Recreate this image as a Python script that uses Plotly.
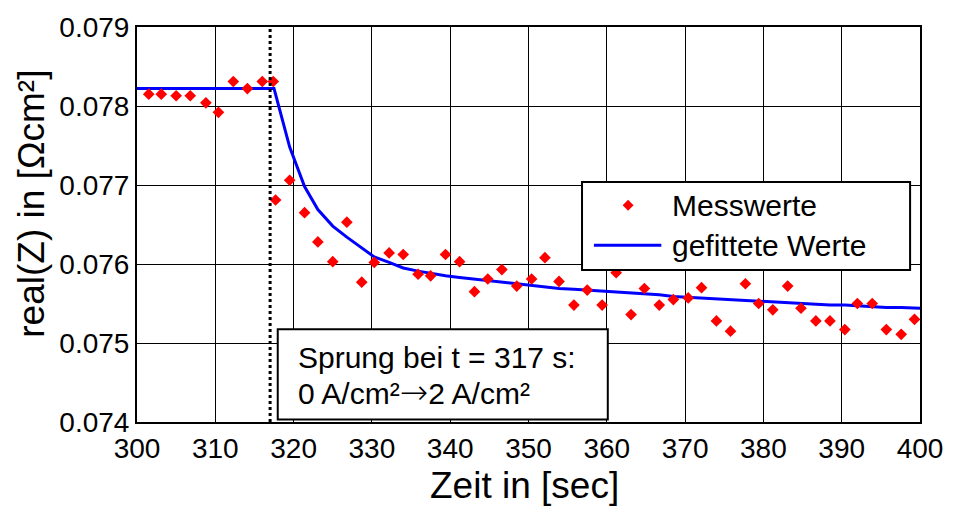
import plotly.graph_objects as go

# Measured real part of the impedance after the current step
zeit = [301.5, 303.1, 305.0, 306.8, 308.8, 310.4, 312.3, 314.1, 316.0, 317.4,
        317.7, 319.5, 321.4, 323.1, 325.0, 326.8, 328.7, 330.3, 332.2, 334.0,
        335.9, 337.5, 339.4, 341.2, 343.1, 344.8, 346.6, 348.5, 350.4, 352.1,
        353.9, 355.8, 357.5, 359.4, 361.2, 363.1, 364.8, 366.7, 368.5, 370.4,
        372.1, 374.0, 375.8, 377.7, 379.4, 381.2, 383.1, 384.8, 386.7, 388.5,
        390.4, 392.0, 393.9, 395.7, 397.6, 399.3]
messwerte = [0.07815, 0.07815, 0.07813, 0.07813, 0.07804, 0.07792, 0.07831, 0.07822, 0.07831, 0.07831,
             0.07681, 0.07706, 0.07665, 0.07628, 0.07603, 0.07653, 0.07577, 0.07602, 0.07614, 0.07612,
             0.07587, 0.07585, 0.07612, 0.07603, 0.07565, 0.07581, 0.07593, 0.07572, 0.07581, 0.07608,
             0.07578, 0.07548, 0.07567, 0.07548, 0.07589, 0.07536, 0.07569, 0.07548, 0.07555, 0.07557,
             0.07570, 0.07528, 0.07515, 0.07575, 0.07550, 0.07542, 0.07572, 0.07544, 0.07528, 0.07528,
             0.07517, 0.07550, 0.07550, 0.07517, 0.07511, 0.07530]

# Fitted model response
fit_zeit = [300.0, 317.5, 319.5, 321.4, 323.1, 325.0, 326.8, 328.7, 330.3, 332.2,
            334.0, 335.9, 337.5, 339.4, 341.2, 343.1, 344.8, 346.6, 348.5, 350.4,
            352.1, 353.9, 355.8, 357.5, 359.4, 361.2, 363.1, 364.8, 366.7, 368.5,
            370.4, 372.1, 374.0, 375.8, 377.7, 379.4, 381.2, 383.1, 384.8, 386.7,
            388.5, 390.4, 392.0, 393.9, 395.7, 397.6, 399.3, 400.0]
fit_werte = [0.07822, 0.07822, 0.07748, 0.07698, 0.07669, 0.07648, 0.07634, 0.07621, 0.07609, 0.07602,
             0.07595, 0.07591, 0.07588, 0.07585, 0.07583, 0.07581, 0.07579, 0.07577, 0.07575, 0.07573,
             0.07571, 0.07569, 0.07568, 0.07567, 0.07565, 0.07564, 0.07563, 0.07562, 0.07561, 0.07559,
             0.07558, 0.07557, 0.07556, 0.07555, 0.07554, 0.07553, 0.07552, 0.07551, 0.07550, 0.07549,
             0.07548, 0.07548, 0.07547, 0.07546, 0.07545, 0.07545, 0.07544, 0.07544]

sprung_zeit = 317
x_ticks = [300, 310, 320, 330, 340, 350, 360, 370, 380, 390, 400]
y_ticks = [0.074, 0.075, 0.076, 0.077, 0.078, 0.079]

FONT = "Liberation Sans, Arial, sans-serif"
W, H = 955, 506
M_L, M_R, M_T, M_B = 137, 28, 22, 84
PW, PH = W - M_L - M_R, H - M_T - M_B


def px(x):
    return (x - M_L) / PW


def py(y):
    return (H - M_B - y) / PH


fig = go.Figure()
fig.add_trace(go.Scatter(x=fit_zeit, y=fit_werte, mode="lines",
                         line=dict(color="#0000ff", width=3), name="gefittete Werte"))
fig.add_trace(go.Scatter(x=zeit, y=messwerte, mode="markers",
                         marker=dict(symbol="diamond", size=9, color="#ff0000", line=dict(width=0)),
                         name="Messwerte"))

axis_common = dict(showgrid=True, gridcolor="black", gridwidth=1, showline=True,
                   linecolor="black", linewidth=2, mirror=True, ticks="", zeroline=False,
                   tickfont=dict(family=FONT, size=28, color="black"))
fig.update_xaxes(range=[300, 400], tickvals=x_ticks, **axis_common)
fig.update_yaxes(range=[0.074, 0.079], tickvals=y_ticks, tickformat=".3f", **axis_common)

shapes = [
    # step marker
    dict(type="line", xref="x", yref="paper", x0=sprung_zeit, x1=sprung_zeit, y0=0, y1=1,
         line=dict(color="black", width=3, dash="dot"), layer="above"),
    # info box
    dict(type="rect", xref="paper", yref="paper", x0=px(279), x1=px(612), y0=py(419.5), y1=py(328),
         line=dict(color="black", width=2), fillcolor="white", layer="above"),
    # legend box
    dict(type="rect", xref="paper", yref="paper", x0=px(586), x1=px(917), y0=py(268), y1=py(179),
         line=dict(color="black", width=2), fillcolor="white", layer="above"),
    # legend key: fitted line
    dict(type="line", xref="paper", yref="paper", x0=px(598), x1=px(666), y0=py(243), y1=py(243),
         line=dict(color="#0000ff", width=3), layer="above"),
]
# legend key: measurement diamond
kx, ky, r = 632.5, 202.5, 5.5
shapes.append(dict(type="path", xref="paper", yref="paper", layer="above",
                   path=f"M {px(kx - r)},{py(ky)} L {px(kx)},{py(ky - r)} L {px(kx + r)},{py(ky)} "
                        f"L {px(kx)},{py(ky + r)} Z",
                   fillcolor="#ff0000", line=dict(width=0)))

arrow = ('<span style="font-family:DejaVu Sans ExtraLight, DejaVu Sans Light, DejaVu Sans;'
         'font-size:34px">→</span>')
annotations = [
    dict(text="Messwerte", x=px(675), y=py(203), xanchor="left", yanchor="middle"),
    dict(text="gefittete Werte", x=px(675), y=py(243), xanchor="left", yanchor="middle"),
    dict(text="Sprung bei t = 317 s:", x=px(297), y=py(357), xanchor="left", yanchor="middle"),
    dict(text=f"0 A/cm²{arrow}2 A/cm²", x=px(297), y=py(392), xanchor="left", yanchor="middle"),
]
for a in annotations:
    a.update(xref="paper", yref="paper", showarrow=False,
             font=dict(family=FONT, size=30, color="black"))

annotations.append(dict(text="Zeit in [sec]", xref="paper", yref="paper", x=px(528), y=py(486),
                        xanchor="center", yanchor="middle", showarrow=False,
                        font=dict(family=FONT, size=37, color="black")))
annotations.append(dict(text="real(Z) in [Ωcm²]", xref="paper", yref="paper", x=px(31), y=py(201),
                        xanchor="center", yanchor="middle", textangle=-90, showarrow=False,
                        font=dict(family=FONT, size=37, color="black")))

fig.update_layout(width=W, height=H, margin=dict(l=M_L, r=M_R, t=M_T, b=M_B),
                  plot_bgcolor="white", paper_bgcolor="white", showlegend=False,
                  shapes=shapes, annotations=annotations)

fig.write_html("out.html")
